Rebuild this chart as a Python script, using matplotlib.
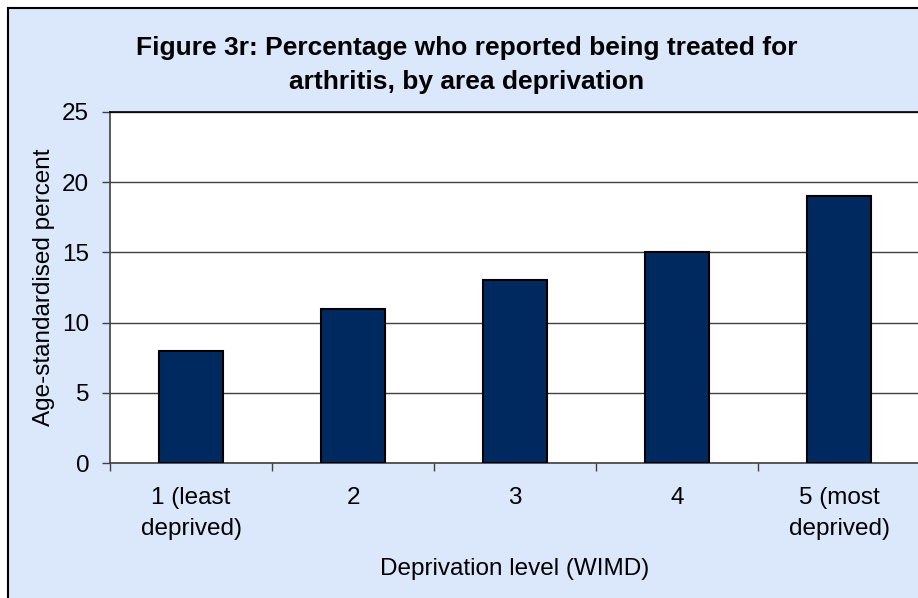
import matplotlib
matplotlib.use("Agg")
import matplotlib.pyplot as plt
import matplotlib.patches as patches

plt.rcParams['font.family'] = ['Liberation Sans', 'DejaVu Sans']

categories = ["1 (least\ndeprived)", "2", "3", "4", "5 (most\ndeprived)"]
values = [8, 11, 13, 15, 19]
yticks = [0, 5, 10, 15, 20, 25]

bg = "#DBE8FB"
bar_color = "#002A5F"

W, H = 918, 598
fig = plt.figure(figsize=(W / 100, H / 100), dpi=100, facecolor="white")

# chart area background with border (cropped at right / bottom)
frame = patches.Rectangle((7.5 / W, -0.1), 1.2, (H - 7.5) / H + 0.1,
                          transform=fig.transFigure, facecolor=bg,
                          edgecolor="black", linewidth=1.5, zorder=-1)
fig.patches.append(frame)

ax = fig.add_axes([110 / W, (H - 463) / H, 810 / W, (463 - 112) / H])
ax.set_facecolor("white")

x = range(len(values))
ax.bar(x, values, width=0.4, color=bar_color, edgecolor="black",
       linewidth=1.5, zorder=3)

ax.set_xlim(-0.5, 4.5)
ax.set_ylim(0, 25)
ax.set_yticks(yticks)
ax.yaxis.grid(True, color="#404040", linewidth=1.0, zorder=0)
ax.set_axisbelow(True)

fs = 17.5
ax.set_xticks(list(x))
ax.set_xticklabels(categories, fontsize=fs, linespacing=1.55)
ax.set_xticks([i + 0.5 for i in range(-1, len(values))], minor=True)
ax.tick_params(axis="x", which="major", length=0, pad=17)
ax.tick_params(axis="x", which="minor", length=6, width=1, color="#404040")
ax.tick_params(axis="y", length=6, width=1, color="#404040", labelsize=fs, pad=9)

for s in ["left", "bottom"]:
    ax.spines[s].set_color("#404040")
    ax.spines[s].set_linewidth(1.2)
ax.spines["top"].set_color("black")
ax.spines["top"].set_linewidth(1.2)
ax.spines["right"].set_visible(False)

ax.set_ylabel("Age-standardised percent", fontsize=fs, labelpad=5)
ax.set_xlabel("Deprivation level (WIMD)", fontsize=fs, labelpad=13)

fig.text(467 / W, 1 - 65 / H,
         "Figure 3r: Percentage who reported being treated for\narthritis, by area deprivation",
         ha="center", va="center", fontsize=19, fontweight="bold", linespacing=1.5)

fig.savefig("out.png", dpi=100, facecolor=fig.get_facecolor())
